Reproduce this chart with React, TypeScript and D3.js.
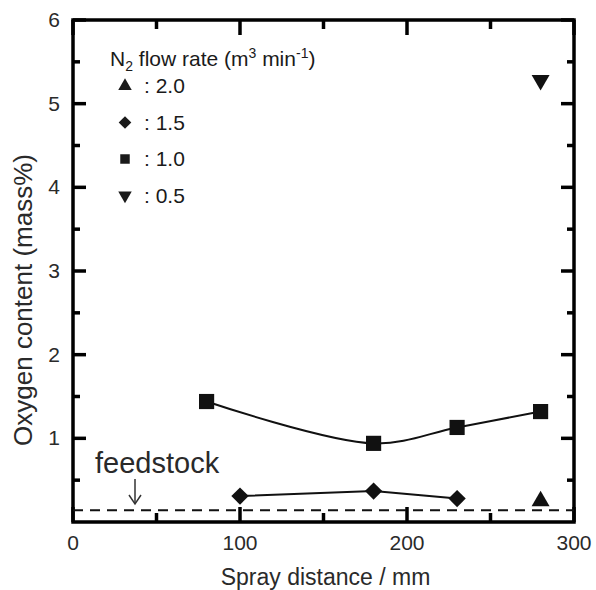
import * as React from "react";
import * as d3 from "d3";

// Oxygen content vs spray distance, per N2 flow rate
const dist10 = [80, 180, 230, 280];
const oxy10 = [1.44, 0.94, 1.13, 1.32];
const dist15 = [100, 180, 230];
const oxy15 = [0.31, 0.37, 0.28];
const dist20 = [280];
const oxy20 = [0.25];
const dist05 = [280];
const oxy05 = [5.28];
const feedstock = 0.14;

const legendLabels = [": 2.0", ": 1.5", ": 1.0", ": 0.5"];
const xTicks = [0, 100, 200, 300];
const xMinorTicks = [50, 150, 250];
const yTicks = [1, 2, 3, 4, 5, 6];
const yMinorTicks = [0.5, 1.5, 2.5, 3.5, 4.5, 5.5];

const W = 596;
const H = 590;
const m = { left: 73, right: 22, top: 20, bottom: 68 };
const font = "'Liberation Sans', Arial, sans-serif";

export default function App() {
  const x = d3.scaleLinear().domain([0, 300]).range([m.left, W - m.right]);
  const y = d3.scaleLinear().domain([0, 6]).range([H - m.bottom, m.top]);
  const sym = (t: d3.SymbolType, size: number) => d3.symbol().type(t).size(size)()!;
  const tri = sym(d3.symbolTriangle, 140);
  const sq = sym(d3.symbolSquare, 230);
  const dia = sym(d3.symbolSquare, 150);
  const smooth = d3.line<number>()
    .curve(d3.curveCatmullRom.alpha(0.5))
    .x((d, i) => x(dist10[i]))
    .y((d) => y(d));
  const sqPath = smooth(oxy10)!;
  const diaPath = d3.line<number>().x((d, i) => x(dist15[i])).y((d) => y(d))(oxy15)!;

  const x0 = x(0), xe = x(300), y0 = y(0), ye = y(6);

  // inward ticks, majors longer than minors
  const xt = [...xTicks.map((v) => [v, 15]), ...xMinorTicks.map((v) => [v, 9])];
  const yt = [...yTicks.map((v) => [v, 13]), ...yMinorTicks.map((v) => [v, 7])];

  return (
    <svg width={W} height={H} style={{ position: "absolute", left: 0, top: 0, background: "#fff" }}>
      <g stroke="#000" strokeWidth={3.5}>
        {xt.map(([v, len]) => (
          <line key={"xb" + v} x1={x(v)} x2={x(v)} y1={y0} y2={y0 - len} />
        ))}
        {xt.map(([v, len]) => (
          <line key={"xt" + v} x1={x(v)} x2={x(v)} y1={ye} y2={ye + len} />
        ))}
        {yt.map(([v, len]) => (
          <line key={"yl" + v} x1={x0} x2={x0 + len} y1={y(v)} y2={y(v)} />
        ))}
        {yt.map(([v, len]) => (
          <line key={"yr" + v} x1={xe} x2={xe - len} y1={y(v)} y2={y(v)} />
        ))}
      </g>
      <rect x={x0} y={ye} width={xe - x0} height={y0 - ye} fill="none" stroke="#000" strokeWidth={3.5} />

      <g fontFamily={font} fill="#2a2a2a">
        {xTicks.map((v) => (
          <text key={"xl" + v} x={x(v)} y={y0 + 28} textAnchor="middle" fontSize={21}>{v}</text>
        ))}
        {yTicks.map((v) => (
          <text key={"yl" + v} x={x0 - 13} y={y(v) + 7} textAnchor="end" fontSize={21}>{v}</text>
        ))}
        <text x={(x0 + xe) / 2 + 2} y={585} textAnchor="middle" fontSize={23}>Spray distance / mm</text>
        <text transform={`translate(32,300) rotate(-90)`} textAnchor="middle" fontSize={26}>
          Oxygen content (mass%)
        </text>
      </g>

      <line x1={x0} x2={xe} y1={y(feedstock)} y2={y(feedstock)} stroke="#111" strokeWidth={2} strokeDasharray="10,7" />
      <text x={95} y={473} fontFamily={font} fontSize={29} fill="#2a2a2a">feedstock</text>
      <g stroke="#333" strokeWidth={1.5} fill="none">
        <line x1={135} x2={135} y1={479} y2={503} />
        <path d="M129,495 L135,504 L141,495" />
      </g>

      <path d={sqPath} fill="none" stroke="#111" strokeWidth={2} />
      <path d={diaPath} fill="none" stroke="#111" strokeWidth={2} />
      <g fill="#111">
        {oxy10.map((v, i) => (
          <path key={"s" + i} d={sq} transform={`translate(${x(dist10[i])},${y(v)})`} />
        ))}
        {oxy15.map((v, i) => (
          <path key={"d" + i} d={dia} transform={`translate(${x(dist15[i])},${y(v)}) rotate(45)`} />
        ))}
        {oxy20.map((v, i) => (
          <path key={"t" + i} d={tri} transform={`translate(${x(dist20[i])},${y(v)})`} />
        ))}
        {oxy05.map((v, i) => (
          <path key={"v" + i} d={tri} transform={`translate(${x(dist05[i])},${y(v)}) rotate(180)`} />
        ))}
      </g>

      <g fontFamily={font} fill="#1a1a1a">
        <text x={110} y={66} fontSize={21}>
          N<tspan fontSize={14} dy={5}>2</tspan>
          <tspan dy={-5}> flow rate (m</tspan>
          <tspan fontSize={14} dy={-8}>3</tspan>
          <tspan dy={8}> min</tspan>
          <tspan fontSize={14} dy={-8}>-1</tspan>
          <tspan dy={8}>)</tspan>
        </text>
        {legendLabels.map((lab, i) => {
          const ly = 93 + i * 36.5;
          const my = ly - 7;
          let shape = tri;
          let tf = `translate(125,${my}) scale(0.75)`;
          if (i === 1) { shape = sym(d3.symbolSquare, 80); tf = `translate(125,${my}) rotate(45)`; }
          if (i === 2) { shape = sym(d3.symbolSquare, 90); tf = `translate(125,${my})`; }
          if (i === 3) { tf = `translate(125,${my}) rotate(180) scale(0.75)`; }
          return (
            <g key={"lg" + i}>
              <path d={shape} transform={tf} />
              <text x={144} y={ly} fontSize={21}>{lab}</text>
            </g>
          );
        })}
      </g>
    </svg>
  );
}
